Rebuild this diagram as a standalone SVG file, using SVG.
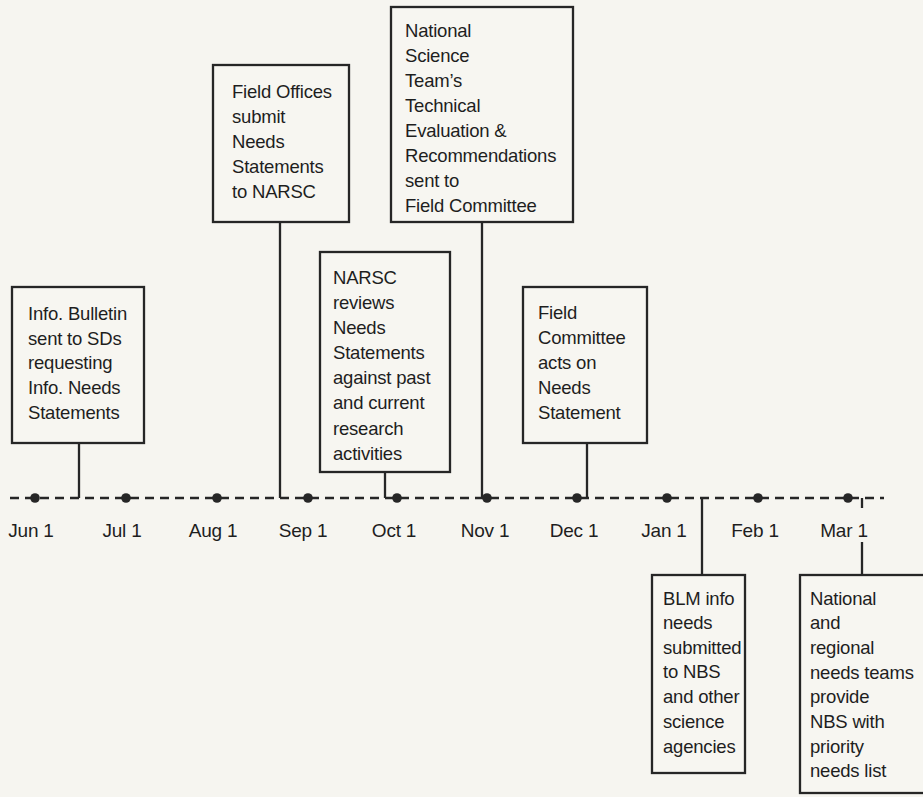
<svg xmlns="http://www.w3.org/2000/svg" width="923" height="797" viewBox="0 0 923 797">
<style>
  .bg { fill: #f6f5f0; }
  .box { fill: #f7f6f1; stroke: #262626; stroke-width: 2.3; }
  .conn { stroke: #262626; stroke-width: 2.3; fill: none; }
  .axis { stroke: #262626; stroke-width: 2.4; stroke-dasharray: 9 6; fill: none; }
  .dot { fill: #262626; }
  text { font-family: "Liberation Sans", Arial, sans-serif; font-size: 18.5px; letter-spacing: -0.2px; fill: #1e1e1e; }
  .lbl { text-anchor: middle; font-size: 19px; }
</style>
<rect class="bg" x="0" y="0" width="923" height="797"/>

<g id="connectors">
  <line class="axis" x1="10" y1="498" x2="884" y2="498"/>
  <line class="conn" x1="79" y1="443" x2="79" y2="498"/>
  <line class="conn" x1="280" y1="222" x2="280" y2="498"/>
  <line class="conn" x1="385" y1="472" x2="385" y2="498"/>
  <line class="conn" x1="482" y1="222" x2="482" y2="498"/>
  <line class="conn" x1="587" y1="443" x2="587" y2="498"/>
  <line class="conn" x1="702" y1="498" x2="702" y2="575"/>
  <line class="conn" x1="862" y1="498" x2="862" y2="508"/>
  <line class="conn" x1="862" y1="542" x2="862" y2="575"/>
</g>

<g id="timeline">
  <circle class="dot" cx="35" cy="498" r="4.8"/>
  <circle class="dot" cx="126" cy="498" r="4.8"/>
  <circle class="dot" cx="217" cy="498" r="4.8"/>
  <circle class="dot" cx="308" cy="498" r="4.8"/>
  <circle class="dot" cx="397" cy="498" r="4.8"/>
  <circle class="dot" cx="487" cy="498" r="4.8"/>
  <circle class="dot" cx="577" cy="498" r="4.8"/>
  <circle class="dot" cx="667" cy="498" r="4.8"/>
  <circle class="dot" cx="758" cy="498" r="4.8"/>
  <circle class="dot" cx="848" cy="498" r="4.8"/>
  <text class="lbl" x="31" y="537">Jun 1</text>
  <text class="lbl" x="122" y="537">Jul 1</text>
  <text class="lbl" x="213" y="537">Aug 1</text>
  <text class="lbl" x="303" y="537">Sep 1</text>
  <text class="lbl" x="394" y="537">Oct 1</text>
  <text class="lbl" x="485" y="537">Nov 1</text>
  <text class="lbl" x="574" y="537">Dec 1</text>
  <text class="lbl" x="664" y="537">Jan 1</text>
  <text class="lbl" x="755" y="537">Feb 1</text>
  <text class="lbl" x="844" y="537">Mar 1</text>
</g>

<g id="info-bulletin">
  <rect class="box" x="12" y="287" width="132" height="156"/>
  <text x="28" y="320">Info. Bulletin</text>
  <text x="28" y="345">sent to SDs</text>
  <text x="28" y="369">requesting</text>
  <text x="28" y="394">Info. Needs</text>
  <text x="28" y="419">Statements</text>
</g>

<g id="field-offices">
  <rect class="box" x="213" y="65" width="136" height="157"/>
  <text x="232" y="98">Field Offices</text>
  <text x="232" y="123">submit</text>
  <text x="232" y="148">Needs</text>
  <text x="232" y="173">Statements</text>
  <text x="232" y="198">to NARSC</text>
</g>

<g id="national-science-team">
  <rect class="box" x="391" y="7" width="182" height="215"/>
  <text x="405" y="37">National</text>
  <text x="405" y="62">Science</text>
  <text x="405" y="87">Team’s</text>
  <text x="405" y="112">Technical</text>
  <text x="405" y="137">Evaluation &amp;</text>
  <text x="405" y="162">Recommendations</text>
  <text x="405" y="187">sent to</text>
  <text x="405" y="212">Field Committee</text>
</g>

<g id="narsc-reviews">
  <rect class="box" x="320" y="252" width="130" height="220"/>
  <text x="333" y="284">NARSC</text>
  <text x="333" y="309">reviews</text>
  <text x="333" y="334">Needs</text>
  <text x="333" y="359">Statements</text>
  <text x="333" y="384">against past</text>
  <text x="333" y="409">and current</text>
  <text x="333" y="435">research</text>
  <text x="333" y="460">activities</text>
</g>

<g id="field-committee">
  <rect class="box" x="523" y="287" width="124" height="156"/>
  <text x="538" y="319">Field</text>
  <text x="538" y="344">Committee</text>
  <text x="538" y="369">acts on</text>
  <text x="538" y="394">Needs</text>
  <text x="538" y="419">Statement</text>
</g>

<g id="blm-info">
  <rect class="box" x="652" y="575" width="93" height="198"/>
  <text x="663" y="605">BLM info</text>
  <text x="663" y="629">needs</text>
  <text x="663" y="654">submitted</text>
  <text x="663" y="678">to NBS</text>
  <text x="663" y="703">and other</text>
  <text x="663" y="728">science</text>
  <text x="663" y="753">agencies</text>
</g>

<g id="needs-teams">
  <rect class="box" x="800" y="575" width="140" height="218"/>
  <text x="810" y="605">National</text>
  <text x="810" y="629">and</text>
  <text x="810" y="654">regional</text>
  <text x="810" y="679">needs teams</text>
  <text x="810" y="703">provide</text>
  <text x="810" y="728">NBS with</text>
  <text x="810" y="753">priority</text>
  <text x="810" y="777">needs list</text>
</g>
</svg>
